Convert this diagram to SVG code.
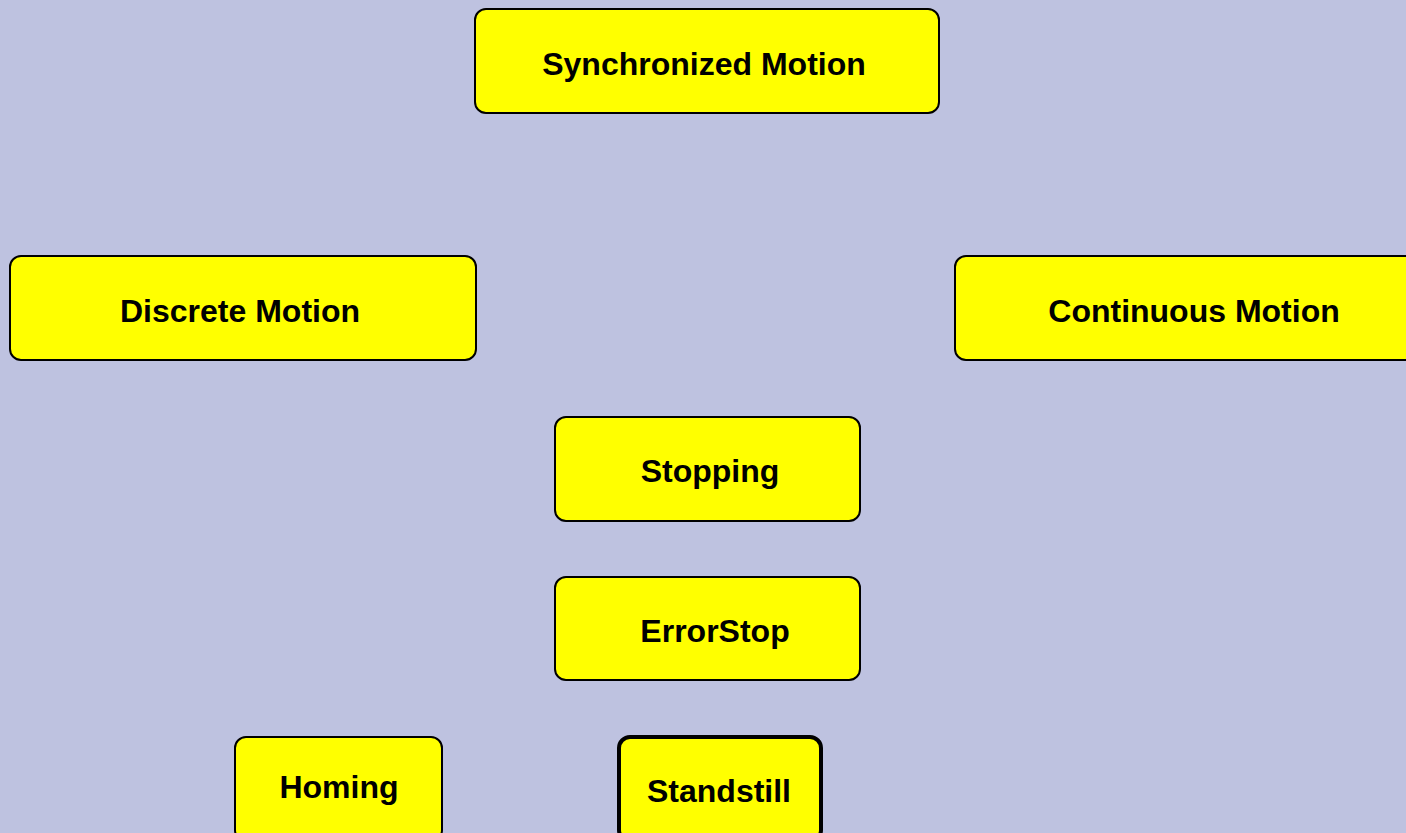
<svg xmlns="http://www.w3.org/2000/svg" width="1406" height="833" viewBox="0 0 1406 833">
  <style>
    .state rect { fill: #ffff00; stroke: #000000; stroke-width: 2; }
    .state.initial rect { stroke-width: 4; }
    .state text { font-family: "Liberation Sans", Arial, Helvetica, sans-serif; font-weight: bold; font-size: 32px; fill: #000000; text-anchor: middle; }
  </style>
  <rect x="0" y="0" width="1406" height="833" fill="#bec2e0"/>
  <g id="connectors"></g>
  <g id="synchronized-motion" class="state">
    <rect x="475" y="9" width="464" height="104" rx="11"/>
    <text x="704" y="75">Synchronized Motion</text>
  </g>
  <g id="discrete-motion" class="state">
    <rect x="10" y="256" width="466" height="104" rx="11"/>
    <text x="240" y="322">Discrete Motion</text>
  </g>
  <g id="continuous-motion" class="state">
    <rect x="955" y="256" width="480" height="104" rx="11"/>
    <text x="1194" y="322">Continuous Motion</text>
  </g>
  <g id="stopping" class="state">
    <rect x="555" y="417" width="305" height="104" rx="11"/>
    <text x="710" y="482">Stopping</text>
  </g>
  <g id="errorstop" class="state">
    <rect x="555" y="577" width="305" height="103" rx="11"/>
    <text x="715" y="642">ErrorStop</text>
  </g>
  <g id="homing" class="state">
    <rect x="235" y="737" width="207" height="104" rx="11"/>
    <text x="339" y="798">Homing</text>
  </g>
  <g id="standstill" class="state initial">
    <rect x="619" y="737" width="202" height="104" rx="11"/>
    <text x="719" y="802">Standstill</text>
  </g>
</svg>
